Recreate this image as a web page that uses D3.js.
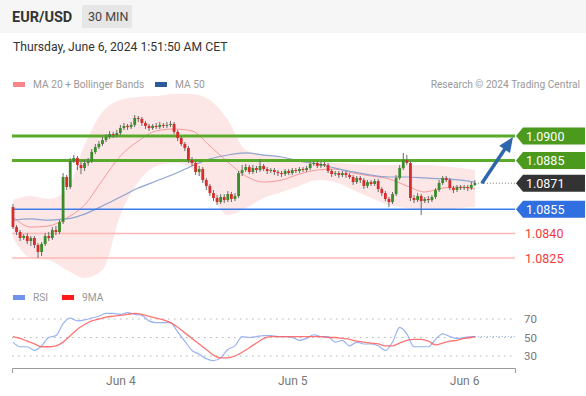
<!DOCTYPE html>
<html>
<head>
<meta charset="utf-8">
<script src="https://cdn.jsdelivr.net/npm/d3@7"></script>
<style>
  body { margin: 0; background: #fff; font-family: Roboto, "Liberation Sans", Arial, sans-serif; }
  svg { display: block; }
</style>
</head>
<body>
<script>
// EUR/USD 30 min candles, Jun 3 09:00 -> Jun 6 01:30 (UTC-ish bar clock)
const firstOpen = 1.08563;
const closes = [
  1.08440, 1.08410, 1.08373, 1.08385, 1.08354, 1.08373, 1.08330, 1.08287, 1.08336, 1.08385,
  1.08373, 1.08422, 1.08410, 1.08471, 1.08748, 1.08686, 1.08846, 1.08865, 1.08822, 1.08803,
  1.08834, 1.08846, 1.08902, 1.08932, 1.08951, 1.08975, 1.08994, 1.09012, 1.09006, 1.09018,
  1.09049, 1.09062, 1.09055, 1.09068, 1.09111, 1.09105, 1.09080, 1.09062, 1.09049, 1.09062,
  1.09055, 1.09068, 1.09062, 1.09068, 1.09074, 1.09025, 1.08988, 1.08951, 1.08926, 1.08852,
  1.08834, 1.08779, 1.08797, 1.08729, 1.08693, 1.08649, 1.08619, 1.08594, 1.08625, 1.08606,
  1.08643, 1.08613, 1.08631, 1.08772, 1.08791, 1.08809, 1.08779, 1.08803, 1.08791, 1.08816,
  1.08797, 1.08785, 1.08791, 1.08779, 1.08772, 1.08766, 1.08785, 1.08772, 1.08791, 1.08785,
  1.08797, 1.08791, 1.08803, 1.08828, 1.08834, 1.08816, 1.08828, 1.08822, 1.08785, 1.08766,
  1.08772, 1.08760, 1.08772, 1.08760, 1.08748, 1.08717, 1.08742, 1.08729, 1.08693, 1.08717,
  1.08705, 1.08723, 1.08674, 1.08649, 1.08613, 1.08594, 1.08643, 1.08742, 1.08803, 1.08852,
  1.08834, 1.08619, 1.08606, 1.08631, 1.08600, 1.08613, 1.08606, 1.08625, 1.08668, 1.08711,
  1.08742, 1.08729, 1.08680, 1.08668, 1.08686, 1.08680, 1.08686, 1.08680, 1.08699, 1.08711
];
const highs = [
  1.08582, 1.08453, 1.08422, 1.08397, 1.08404, 1.08385, 1.08385, 1.08342, 1.08348, 1.08404,
  1.08410, 1.08440, 1.08447, 1.08483, 1.08772, 1.08760, 1.08865, 1.08883, 1.08877, 1.08840,
  1.08852, 1.08865, 1.08920, 1.08951, 1.08969, 1.08994, 1.09012, 1.09031, 1.09025, 1.09037,
  1.09068, 1.09080, 1.09074, 1.09086, 1.09129, 1.09123, 1.09117, 1.09092, 1.09074, 1.09074,
  1.09080, 1.09086, 1.09080, 1.09086, 1.09092, 1.09086, 1.09037, 1.09000, 1.08963, 1.08939,
  1.08871, 1.08846, 1.08816, 1.08809, 1.08742, 1.08705, 1.08668, 1.08637, 1.08643, 1.08643,
  1.08662, 1.08656, 1.08649, 1.08785, 1.08822, 1.08828, 1.08822, 1.08822, 1.08816, 1.08859,
  1.08828, 1.08809, 1.08803, 1.08803, 1.08791, 1.08785, 1.08797, 1.08797, 1.08803, 1.08803,
  1.08809, 1.08809, 1.08816, 1.08840, 1.08846, 1.08846, 1.08840, 1.08840, 1.08834, 1.08797,
  1.08785, 1.08785, 1.08785, 1.08785, 1.08772, 1.08760, 1.08754, 1.08754, 1.08742, 1.08729,
  1.08729, 1.08736, 1.08736, 1.08686, 1.08662, 1.08625, 1.08656, 1.08760, 1.08822, 1.08896,
  1.08883, 1.08846, 1.08637, 1.08649, 1.08643, 1.08625, 1.08631, 1.08637, 1.08680, 1.08729,
  1.08754, 1.08754, 1.08742, 1.08693, 1.08699, 1.08699, 1.08699, 1.08699, 1.08717, 1.08729
];
const lows = [
  1.08428, 1.08391, 1.08354, 1.08361, 1.08336, 1.08324, 1.08311, 1.08250, 1.08262, 1.08324,
  1.08354, 1.08361, 1.08391, 1.08397, 1.08459, 1.08668, 1.08674, 1.08834, 1.08791, 1.08766,
  1.08785, 1.08816, 1.08834, 1.08889, 1.08920, 1.08939, 1.08963, 1.08982, 1.08988, 1.08994,
  1.09006, 1.09037, 1.09037, 1.09043, 1.09055, 1.09086, 1.09062, 1.09043, 1.09031, 1.09037,
  1.09043, 1.09043, 1.09049, 1.09049, 1.09055, 1.09012, 1.08969, 1.08939, 1.08908, 1.08834,
  1.08816, 1.08760, 1.08754, 1.08711, 1.08668, 1.08631, 1.08600, 1.08576, 1.08582, 1.08588,
  1.08594, 1.08594, 1.08600, 1.08619, 1.08754, 1.08779, 1.08766, 1.08766, 1.08772, 1.08779,
  1.08785, 1.08766, 1.08772, 1.08760, 1.08754, 1.08748, 1.08754, 1.08760, 1.08760, 1.08772,
  1.08772, 1.08779, 1.08779, 1.08791, 1.08816, 1.08803, 1.08803, 1.08809, 1.08772, 1.08748,
  1.08754, 1.08742, 1.08748, 1.08742, 1.08736, 1.08699, 1.08705, 1.08711, 1.08674, 1.08680,
  1.08693, 1.08693, 1.08656, 1.08631, 1.08600, 1.08563, 1.08582, 1.08631, 1.08729, 1.08791,
  1.08822, 1.08600, 1.08588, 1.08594, 1.08514, 1.08588, 1.08588, 1.08594, 1.08613, 1.08656,
  1.08699, 1.08717, 1.08668, 1.08649, 1.08656, 1.08668, 1.08668, 1.08662, 1.08668, 1.08693
];

// indicators read every 5 bars
const indIdx = [0, 5, 10, 15, 20, 25, 30, 35, 40, 45, 50, 55, 60, 65, 70, 75, 80, 85, 90, 95, 100, 105, 110, 115, 120, 125, 129];
const ma20 = [1.08502, 1.08440, 1.08447, 1.08496, 1.08576, 1.08729, 1.08877, 1.08969, 1.09031, 1.09043, 1.09031, 1.08939, 1.08840, 1.08754,
  1.08717, 1.08729, 1.08766, 1.08791, 1.08797, 1.08772, 1.08754, 1.08736, 1.08693, 1.08656, 1.08680, 1.08686, 1.08674];
const ma50 = [1.08483, 1.08490, 1.08483, 1.08490, 1.08520, 1.08570, 1.08625, 1.08680, 1.08723, 1.08766, 1.08816, 1.08859, 1.08883, 1.08896,
  1.08883, 1.08871, 1.08846, 1.08828, 1.08803, 1.08779, 1.08760, 1.08748, 1.08748, 1.08742, 1.08736, 1.08729, 1.08717];
const bbUpper = [1.08606, 1.08631, 1.08613, 1.08668, 1.08945, 1.09148, 1.09221, 1.09240, 1.09246, 1.09258, 1.09258, 1.09221, 1.09098, 1.08914,
  1.08883, 1.08865, 1.08852, 1.08846, 1.08834, 1.08828, 1.08822, 1.08822, 1.08822, 1.08822, 1.08816, 1.08803, 1.08791];
const bbLower = [1.08373, 1.08250, 1.08237, 1.08176, 1.08127, 1.08176, 1.08514, 1.08717, 1.08816, 1.08834, 1.08803, 1.08656, 1.08514, 1.08557,
  1.08619, 1.08656, 1.08693, 1.08729, 1.08717, 1.08668, 1.08619, 1.08576, 1.08557, 1.08545, 1.08545, 1.08557, 1.08563];

// RSI and its 9MA, read every 2 bars
const rsiIdx = d3.range(0, 130, 2).concat([129]);
const rsi = [45, 40, 40, 36, 41, 50, 52, 65, 71, 68, 69, 71, 73, 76, 76, 75, 77, 75, 74, 68,
  66, 66, 66, 56, 46, 36, 32, 27, 25, 28, 37, 41, 51, 50, 51, 52, 52, 51, 51, 50,
  47, 49, 53, 51, 51, 45, 47, 41, 45, 43, 43, 41, 36, 45, 61, 54, 40, 40, 40, 48,
  54, 51, 49, 50, 51, 51];
const rsiMa = [51, 49, 46, 43, 40, 40, 41, 45, 52, 59, 64, 68, 70, 72, 73, 74, 75, 76, 75, 73,
  71, 69, 66, 61, 55, 49, 43, 37, 31, 28, 28, 30, 34, 39, 44, 49, 51, 51, 51, 51,
  51, 51, 51, 51, 50, 50, 49, 48, 46, 45, 44, 43, 41, 41, 44, 47, 48, 48, 46, 42,
  44, 46, 47, 49, 50, 51];

const levelValues = [1.0900, 1.0885, 1.0871, 1.0855, 1.0840, 1.0825];
const levelKinds = ['res', 'res', 'last', 'sup', 'weak', 'weak'];
const rsiTicks = [70, 50, 30];
const dayTicks = ['2024-06-04', '2024-06-05', '2024-06-06'];

const colors = {
  res: '#5aab2c', resTag: '#4b9a1d', last: '#333333', sup: '#3a7cea', supTag: '#2f6fe0', weak: '#ffb8b8', weakText: '#f03a3a',
  up: '#3a8c2a', down: '#d62c2c', wick: '#6a6a6a', band: '#fde6e6', ma20: '#f59a9a', ma50: '#8fa4cf',
  rsi: '#98b2f2', rsiMa: '#ff5c5c', arrow: '#2e66ab'
};

const W = 586, H = 396;
const t0 = Date.UTC(2024, 5, 3, 9, 0);
const barTime = i => new Date(t0 + i * 30 * 60 * 1000);

const x = d3.scaleUtc()
  .domain([new Date(Date.UTC(2024, 5, 3, 8, 52)), new Date(Date.UTC(2024, 5, 6, 7, 6))])
  .range([12, 515]);
const y = d3.scaleLinear().domain([1.0825, 1.0900]).range([258, 136]);
const yR = d3.scaleLinear().domain([30, 70]).range([356, 319]);

const svg = d3.select('body').append('svg').attr('width', W).attr('height', H);

// header
svg.append('rect').attr('width', W).attr('height', 33).attr('fill', '#f6f6f6');
svg.append('text').attr('x', 12).attr('y', 22).attr('font-size', 14.5).attr('font-weight', 700)
  .attr('fill', '#333').text('EUR/USD');
svg.append('rect').attr('x', 82).attr('y', 5).attr('width', 50).attr('height', 23).attr('rx', 2).attr('fill', '#e6e6e6');
svg.append('text').attr('x', 88).attr('y', 21).attr('font-size', 12.5).attr('fill', '#444').text('30 MIN');
svg.append('text').attr('x', 13).attr('y', 51).attr('font-size', 12.2).attr('fill', '#333')
  .text('Thursday, June 6, 2024 1:51:50 AM CET');

// legend
const legend = svg.append('g').attr('font-size', 10.2).attr('fill', '#999');
legend.append('rect').attr('x', 13).attr('y', 82).attr('width', 12).attr('height', 5).attr('fill', '#f7868b');
legend.append('text').attr('x', 33).attr('y', 88).text('MA 20 + Bollinger Bands');
legend.append('rect').attr('x', 155).attr('y', 82).attr('width', 12).attr('height', 5).attr('fill', '#2d5a9b');
legend.append('text').attr('x', 175).attr('y', 88).text('MA 50');
legend.append('text').attr('x', 580).attr('y', 88).attr('text-anchor', 'end').text('Research \u00a9 2024 Trading Central');

// bollinger band + moving averages
const ind = indIdx.map((idx, k) => ({ t: barTime(idx), hi: bbUpper[k], lo: bbLower[k], m20: ma20[k], m50: ma50[k] }));
svg.append('path').datum(ind)
  .attr('fill', colors.band)
  .attr('d', d3.area().x(d => x(d.t)).y0(d => y(d.lo)).y1(d => y(d.hi)).curve(d3.curveMonotoneX));
svg.append('path').datum(ind).attr('fill', 'none').attr('stroke', colors.ma20).attr('stroke-width', 1)
  .attr('d', d3.line().x(d => x(d.t)).y(d => y(d.m20)).curve(d3.curveMonotoneX));
svg.append('path').datum(ind).attr('fill', 'none').attr('stroke', colors.ma50).attr('stroke-width', 1.2)
  .attr('d', d3.line().x(d => x(d.t)).y(d => y(d.m50)).curve(d3.curveMonotoneX));

// levels
const levels = levelValues.map((v, i) => ({ v, kind: levelKinds[i] }));
svg.append('g').selectAll('line').data(levels.filter(d => d.kind !== 'last')).join('line')
  .attr('x1', 12).attr('x2', 515)
  .attr('y1', d => y(d.v)).attr('y2', d => y(d.v))
  .attr('stroke', d => colors[d.kind])
  .attr('stroke-width', d => d.kind === 'res' ? 3 : d.kind === 'sup' ? 1.6 : 1.5);

// candles
const candles = closes.map((c, i) => ({ t: barTime(i), o: i ? closes[i - 1] : firstOpen, h: highs[i], l: lows[i], c }));
const cg = svg.append('g');
cg.selectAll('line').data(candles).join('line')
  .attr('x1', d => x(d.t)).attr('x2', d => x(d.t))
  .attr('y1', d => y(d.h)).attr('y2', d => y(d.l))
  .attr('stroke', colors.wick).attr('stroke-width', 1);
cg.selectAll('rect').data(candles).join('rect')
  .attr('x', d => x(d.t) - 1.4).attr('width', 2.8)
  .attr('y', d => y(Math.max(d.o, d.c)))
  .attr('height', d => Math.max(1, Math.abs(y(d.o) - y(d.c))))
  .attr('fill', d => d.c >= d.o ? colors.up : colors.down);

// last price dotted + arrow
const last = candles[candles.length - 1];
svg.append('line').attr('x1', x(last.t) + 3).attr('x2', 515)
  .attr('y1', y(levelValues[2])).attr('y2', y(levelValues[2]))
  .attr('stroke', '#777').attr('stroke-width', 1).attr('stroke-dasharray', '1,2');

const ax0 = x(last.t) + 7, ay0 = y(levelValues[2]);
const ax1 = 513, ay1 = y(levelValues[0]) + 1;
const len = Math.hypot(ax1 - ax0, ay1 - ay0);
const ux = (ax1 - ax0) / len, uy = (ay1 - ay0) / len;
const head = 15, hw = 6.5;
svg.append('line').attr('x1', ax0).attr('y1', ay0)
  .attr('x2', ax1 - ux * (head - 2)).attr('y2', ay1 - uy * (head - 2))
  .attr('stroke', colors.arrow).attr('stroke-width', 3.5);
const bx = ax1 - ux * head, by = ay1 - uy * head;
svg.append('path').attr('fill', colors.arrow)
  .attr('d', `M${ax1},${ay1}L${bx - uy * hw},${by + ux * hw}L${bx + uy * hw},${by - ux * hw}Z`);

// price tags
const tagged = levels.filter(d => d.kind !== 'weak');
const tags = svg.append('g').selectAll('g').data(tagged).join('g')
  .attr('transform', d => `translate(0,${y(d.v)})`);
tags.append('path')
  .attr('d', 'M516,0L523,-8.5L585,-8.5L585,8.5L523,8.5Z')
  .attr('fill', d => d.kind === 'res' ? colors.resTag : d.kind === 'sup' ? colors.supTag : colors.last);
tags.append('text').attr('x', 526).attr('y', 4.5).attr('font-size', 12.5).attr('fill', '#fff')
  .text(d => d.v.toFixed(4));
svg.append('g').selectAll('text').data(levels.filter(d => d.kind === 'weak')).join('text')
  .attr('x', 525).attr('y', d => y(d.v) + 4.5).attr('font-size', 12.5).attr('fill', colors.weakText)
  .text(d => d.v.toFixed(4));

// RSI panel
const rl = svg.append('g').attr('font-size', 10.2).attr('fill', '#999');
rl.append('rect').attr('x', 13).attr('y', 295).attr('width', 12).attr('height', 5).attr('fill', '#6f92ea');
rl.append('text').attr('x', 33).attr('y', 301).text('RSI');
rl.append('rect').attr('x', 62).attr('y', 295).attr('width', 12).attr('height', 5).attr('fill', '#ff1a1a');
rl.append('text').attr('x', 82).attr('y', 301).text('9MA');

svg.append('g').selectAll('line').data(rsiTicks).join('line')
  .attr('x1', 12).attr('x2', 515).attr('y1', d => yR(d)).attr('y2', d => yR(d))
  .attr('stroke', '#b5b5b5').attr('stroke-dasharray', '1.5,4.5');

const yAxisR = svg.append('g').attr('transform', 'translate(515,0)')
  .call(d3.axisRight(yR).tickValues(rsiTicks).tickSize(0).tickPadding(9));
yAxisR.select('.domain').remove();
yAxisR.selectAll('text').attr('font-size', 11.5).attr('fill', '#777').attr('font-family', 'Roboto, sans-serif');

const rsiPts = rsiIdx.map((idx, k) => ({ t: barTime(idx), r: rsi[k], m: rsiMa[k] }));
svg.append('path').datum(rsiPts).attr('fill', 'none').attr('stroke', colors.rsi).attr('stroke-width', 1.2)
  .attr('d', d3.line().x(d => x(d.t)).y(d => yR(d.r)).curve(d3.curveMonotoneX));
svg.append('path').datum(rsiPts).attr('fill', 'none').attr('stroke', colors.rsiMa).attr('stroke-width', 1.3)
  .attr('opacity', 0.85)
  .attr('d', d3.line().x(d => x(d.t)).y(d => yR(d.m)).curve(d3.curveMonotoneX));
const lastR = rsiPts[rsiPts.length - 1];
svg.append('line').attr('x1', x(lastR.t)).attr('x2', 515).attr('y1', yR(lastR.r)).attr('y2', yR(lastR.r))
  .attr('stroke', colors.rsi).attr('stroke-dasharray', '1,2');

// time axis
const xAxis = svg.append('g').attr('transform', 'translate(0,368)')
  .call(d3.axisBottom(x).tickValues(dayTicks.map(d => new Date(d + 'T00:00:00Z')))
    .tickFormat(d3.utcFormat('%b %-d')).tickSizeInner(0).tickSizeOuter(5).tickPadding(8));
xAxis.select('.domain').attr('stroke', '#9a9a9a');
xAxis.selectAll('text').attr('font-size', 12).attr('fill', '#777').attr('font-family', 'Roboto, sans-serif');
</script>
</body>
</html>
